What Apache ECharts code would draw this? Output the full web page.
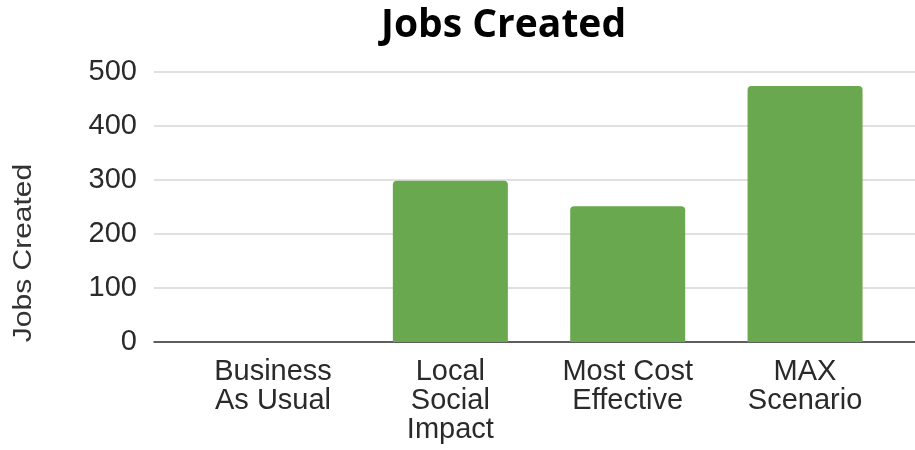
<!DOCTYPE html>
<html>
<head>
<meta charset="utf-8">
<script src="https://cdn.jsdelivr.net/npm/echarts@6/dist/echarts.min.js"></script>
<style>html,body{margin:0;padding:0;background:#fff}#c{width:915px;height:450px}</style>
</head>
<body>
<div id="c"></div>
<script>
var chartTitle = 'Jobs Created';
var yAxisTitle = 'Jobs Created';
var categories = ['Business\nAs Usual', 'Local\nSocial\nImpact', 'Most Cost\nEffective', 'MAX\nScenario'];
var jobsCreated = [0, 298, 251, 473];
var yTicks = [0, 100, 200, 300, 400, 500];

var chart = echarts.init(document.getElementById('c'), null, {renderer: 'canvas'});
var positions = categories.map(function (c, i) { return i; });
var option = {
  animation: false,
  backgroundColor: '#ffffff',
  title: {
    text: chartTitle,
    left: 376,
    top: 1,
    textStyle: {fontFamily: 'Open Sans', fontWeight: 'bold', fontSize: 39, color: '#000'}
  },
  graphic: [{
    type: 'text',
    x: 24,
    y: 253,
    rotation: Math.PI / 2,
    scaleX: 1.2,
    style: {
      text: yAxisTitle,
      fontFamily: 'Liberation Sans',
      fontSize: 25,
      fill: '#333',
      align: 'center',
      verticalAlign: 'middle'
    }
  }],
  grid: {left: 154, right: 0, top: 71.5, bottom: 108},
  xAxis: {
    type: 'value',
    min: -0.671,
    max: 3.62,
    splitLine: {show: false},
    axisLine: {show: true, onZero: false, lineStyle: {color: '#333', width: 1.5}},
    axisTick: {show: false},
    axisLabel: {
      customValues: positions,
      formatter: function (v) { return categories[Math.round(v)]; },
      fontFamily: 'Liberation Sans',
      fontSize: 29,
      lineHeight: 29,
      color: '#2a2a2a',
      margin: 15,
      align: 'center'
    }
  },
  yAxis: {
    type: 'value',
    min: yTicks[0],
    max: yTicks[yTicks.length - 1],
    interval: 100,
    axisLine: {show: false},
    axisTick: {show: false},
    splitLine: {lineStyle: {color: '#d6d6d6', width: 1.5}},
    axisLabel: {
      fontFamily: 'Liberation Sans',
      fontSize: 29,
      color: '#2a2a2a',
      margin: 17
    }
  },
  series: [{
    type: 'bar',
    data: jobsCreated.map(function (v, i) { return [positions[i], v]; }),
    barWidth: 115,
    itemStyle: {color: '#6aa84f', borderRadius: [4, 4, 0, 0]}
  }]
};
chart.setOption(option);
</script>
</body>
</html>
